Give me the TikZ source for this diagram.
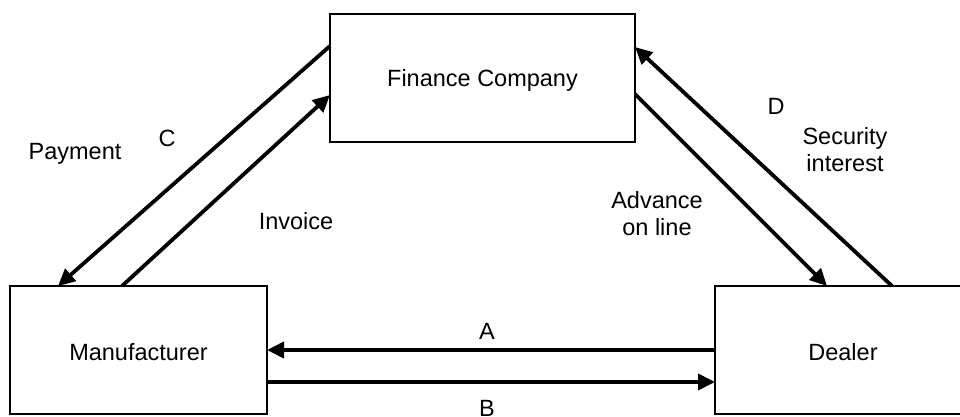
\documentclass[tikz,border=0pt]{standalone}
\usepackage{fontspec}
\setmainfont{Liberation Sans}
\usetikzlibrary{arrows.meta}
\begin{document}
\begin{tikzpicture}[x=1pt,y=-1pt,
  box/.style={draw,line width=2.2pt,rectangle,inner sep=0pt,outer sep=0pt},
  flow/.style={line width=3.8pt,-{Triangle[length=17pt,width=16pt]}},
  lbl/.style={font=\fontsize{23.5}{27}\selectfont,inner sep=0pt,align=center}]
\useasboundingbox (0,0) rectangle (960,417);
\begin{scope}
\clip (0,0) rectangle (960,417);
\node[box,minimum width=305pt,minimum height=128pt] (fin) at (482.5,78) {};
\node[box,minimum width=257pt,minimum height=128pt] (man) at (138.5,350) {};
\node[box,minimum width=256pt,minimum height=128pt] (dea) at (843,350) {};
\end{scope}
\node[lbl] (tfin) at (482.5,80) {Finance Company};
\node[lbl] (tman) at (138.5,352) {Manufacturer};
\node[lbl] (tdea) at (843,352) {Dealer};
% connectors
\draw[flow] ([yshift=32pt]fin.west) -- ([xshift=-80.5pt]man.north);
\draw[flow] ([xshift=-16.5pt]man.north) -- ([yshift=-17pt]fin.west);
\draw[flow] ([yshift=-16pt]fin.east) -- ([xshift=-16pt]dea.north);
\draw[flow] ([xshift=49pt]dea.north) -- ([yshift=31pt]fin.east);
\draw[flow] (dea.west) -- (man.east);
\draw[flow] ([yshift=-32pt]man.east) -- ([yshift=-32pt]dea.west);
% labels
\node[lbl] (lpay) at (75,154) {Payment};
\node[lbl] (lc) at (167,138) {C};
\node[lbl] (linv) at (296,221) {Invoice};
\node[lbl] (ld) at (776,106) {D};
\node[lbl] (lsec) at (845,150) {Security\\interest};
\node[lbl] (ladv) at (657,214) {Advance\\on line};
\node[lbl] (la) at (487,331) {A};
\node[lbl] (lb) at (487,408) {B};
\end{tikzpicture}
\end{document}
